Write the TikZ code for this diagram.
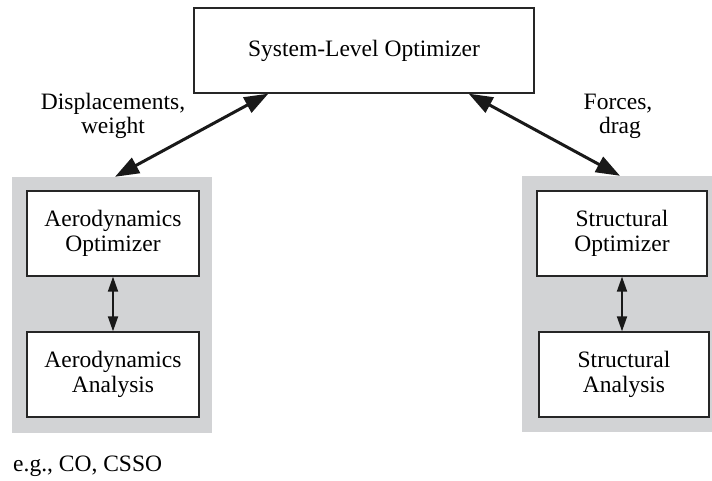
\documentclass[tikz,border=0pt]{standalone}
\usepackage{fontspec}
\setmainfont{Liberation Serif}
\usetikzlibrary{arrows.meta}
\definecolor{panelgray}{RGB}{210,211,213}
\tikzset{
  txt/.style={font=\fontsize{23.5}{25}\selectfont, align=center},
  optbox/.style={txt, draw=black!85, line width=1.3pt, fill=white,
    minimum width=172pt, minimum height=85pt, inner sep=0pt},
  panel/.style={fill=panelgray, draw=none, inner sep=0pt},
  bigarrow/.style={line width=3pt, black!90,
    {Triangle[length=24pt,width=17pt]}-{Triangle[length=24pt,width=17pt]}},
  smallarrow/.style={line width=1.8pt, black!90,
    {Triangle[length=15pt,width=10pt]}-{Triangle[length=15pt,width=10pt]}},
  lbl/.style={txt, inner sep=0pt, anchor=base}
}
\begin{document}
\begin{tikzpicture}[x=1pt,y=-1pt]
\useasboundingbox (0,0) rectangle (712,481);

% grey panels holding each discipline
\node[panel, minimum width=200pt, minimum height=256pt] (lg) at (112,305) {};
\node[panel, minimum width=200pt, minimum height=256pt] (rg) at (622,304) {};

% system level
\node[optbox, minimum width=340pt] (sys) at (364,50.5) {System-Level Optimizer};

% aerodynamics discipline
\node[optbox] (aopt) at (113,233.5) {Aerodynamics\\Optimizer};
\node[optbox] (aana) at (113,374.5) {Aerodynamics\\Analysis};

% structures discipline
\node[optbox, minimum width=170pt] (sopt) at (622,233.5) {Structural\\Optimizer};
\node[optbox, minimum width=170pt] (sana) at (624,374.5) {Structural\\Analysis};

% couplings
\draw[bigarrow] ([xshift=75pt]sys.south west) -- ([xshift=3pt]lg.north);
\draw[bigarrow] ([xshift=-66pt]sys.south east) -- ([xshift=-2pt]rg.north);
\draw[smallarrow] (aopt.south) -- (aana.north);
\draw[smallarrow] (sopt.south) -- (sopt.south |- sana.north);

% labels
\node[lbl] (l1) at (113,110) {Displacements,};
\node[lbl] (l2) at (113,134) {weight};
\node[lbl] (r1) at (618,110) {Forces,};
\node[lbl] (r2) at (620,134) {drag};
\node[lbl, anchor=base west] (eg) at (13,471) {e.g., CO, CSSO};
\end{tikzpicture}
\end{document}
